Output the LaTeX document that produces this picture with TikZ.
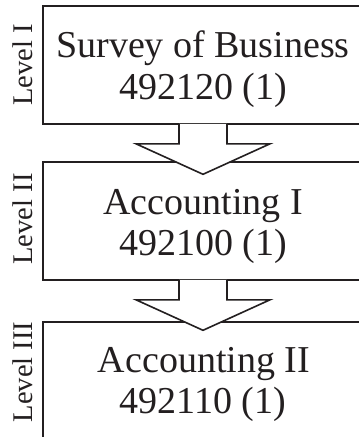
\documentclass[tikz,border=0pt]{standalone}
\usepackage{fontspec}
\setmainfont{Liberation Serif}
\usetikzlibrary{calc}
\definecolor{ink}{RGB}{35,31,32}
\tikzset{
  box/.style={draw=ink, line width=1.6pt, minimum width=320pt, minimum height=118pt, inner sep=0pt, fill=white},
  txt/.style={anchor=base, text=ink, inner sep=0pt, font=\fontsize{38}{42}\selectfont},
  lvl/.style={anchor=base, rotate=90, text=ink, inner sep=0pt, font=\fontsize{28.5}{32}\selectfont},
  arrowline/.style={draw=ink, line width=1.6pt, line join=miter},
}
\newcommand{\downarrowshape}[2]{%
  \fill[white] ($(#1.south)+(-24pt,0.9pt)$) -- ++(0,-19.9pt) -- ++(-43pt,0) -- ($(#1.south)+(0,-49.5pt)$)
     -- ($(#1.south)+(67pt,-19pt)$) -- ++(-43pt,0) -- ($(#1.south)+(24pt,0.9pt)$) -- cycle;
  \draw[arrowline] ($(#1.south)+(-24pt,0.8pt)$) -- ++(0,-19.8pt) coordinate (#2a) -- ++(-43pt,0) coordinate (#2b)
     -- ($(#1.south)+(0,-49.5pt)$) coordinate (#2tip) -- ($(#1.south)+(67pt,-19pt)$) coordinate (#2c)
     -- ++(-43pt,0) coordinate (#2d) -- ($(#1.south)+(24pt,0.8pt)$);
}
\begin{document}
\begin{tikzpicture}[x=1pt,y=1pt]
\useasboundingbox (0,0) rectangle (359,-437);
\clip (0,0) rectangle (359,-437);
\node[box] (b1) at (203,-65) {};
\node[box] (b2) at (203,-221) {};
\node[box] (b3) at (203,-381) {};
\downarrowshape{b1}{ar1}
\downarrowshape{b2}{ar2}
\node[txt] (t1a) at (203,-57.5) {Survey of Business};
\node[txt] (t1b) at (203,-99.5) {492120 (1)};
\node[txt] (t2a) at (203,-214) {Accounting I};
\node[txt] (t2b) at (203,-255) {492100 (1)};
\node[txt] (t3a) at (204,-372) {Accounting II};
\node[txt] (t3b) at (203,-413) {492110 (1)};
\node[lvl] (l1) at (32,-65) {Level I};
\node[lvl] (l2) at (32,-219) {Level II};
\node[lvl] (l3) at (32,-372) {Level III};
\end{tikzpicture}
\end{document}
